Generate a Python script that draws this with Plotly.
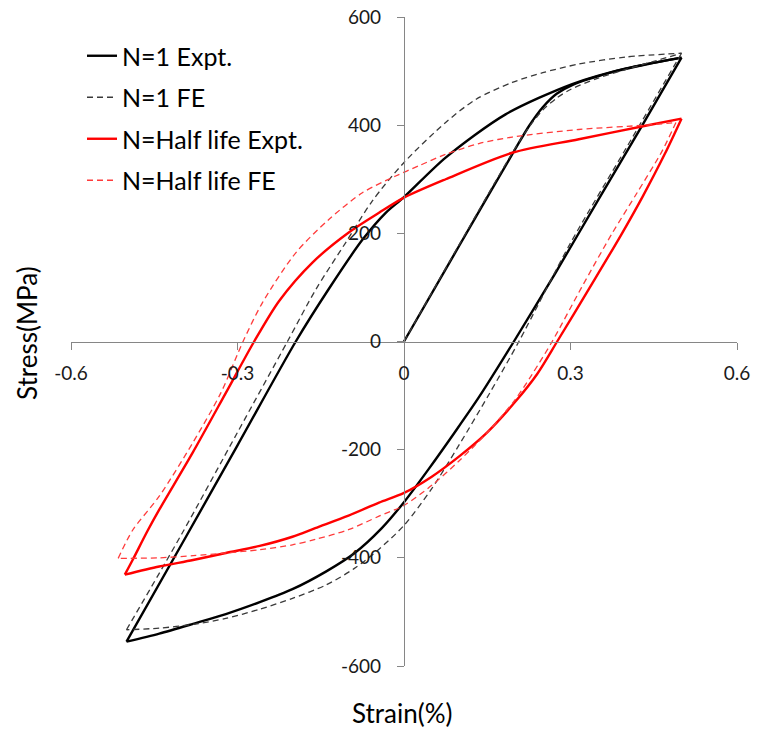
import plotly.graph_objects as go

# ---------------- data ----------------
# None separates the branches of each hysteresis loop (loading / unloading)
n1_expt_strain = [0, 0.1, 0.2, 0.225, 0.25, 0.275, 0.303, 0.375, 0.435, 0.5, None,
                  0.5, 0.429, 0.35, 0.273, 0.198, 0.135, 0.09, 0.045, 0, -0.04, -0.09, -0.14, -0.201,
                  -0.26, -0.321, -0.38, -0.441, -0.5, None,
                  -0.5, -0.4, -0.3, -0.195, -0.135, -0.075, -0.033, 0, 0.075,
                  0.183, 0.303, 0.4, 0.5]
n1_expt_stress = [0, 178, 355, 398, 433, 458, 474, 498, 512, 525, None,
                  525, 399, 262, 127, 0, -103, -170, -235, -297, -345, -392, -425, -458,
                  -482, -504, -522, -540, -555, None,
                  -555, -374, -192, 0, 98, 188, 238, 267, 340,
                  420, 476, 505, 525]

n1_fe_strain = [0, 0.1, 0.2, 0.225, 0.25, 0.275, 0.3, 0.35, 0.4, 0.45, 0.5, None,
                0.5, 0.4, 0.3, 0.207, 0.153, 0.1, 0.05, 0, -0.045, -0.09,
                -0.14, -0.201, -0.26, -0.321, -0.38, -0.441, -0.5, None,
                -0.5, -0.4, -0.3, -0.21, -0.159, -0.105, -0.057, 0, 0.075,
                0.13, 0.195, 0.25, 0.315, 0.4, 0.5]
n1_fe_stress = [0, 180, 357, 396, 428, 450, 466, 487, 503, 518, 533, None,
                533, 357, 182, 0, -98, -190, -272, -340, -384, -420,
                -450, -475, -495, -512, -523, -530, -533, None,
                -533, -355, -168, 0, 96, 183, 260, 331, 405,
                448, 479, 497, 513, 526, 533]

half_expt_strain = [0.5, 0.47, 0.43, 0.39, 0.333, 0.276, 0.24, 0.2, 0.15, 0.1, 0.05, 0,
                    -0.045, -0.1, -0.16, -0.201, -0.26, -0.321, -0.38, -0.441, -0.503, None,
                    -0.503, -0.489, -0.462, -0.441, -0.381, -0.321, -0.27, -0.225, -0.165, -0.099,
                    -0.045, 0, 0.075, 0.195, 0.315, 0.435, 0.5]
half_expt_stress = [412, 347, 268, 195, 97, 0, -60, -112, -168, -212, -250, -280,
                    -298, -322, -345, -361, -378, -391, -404, -416, -431, None,
                    -431, -404, -350, -311, -206, -95, 0, 75, 146, 202,
                    238, 266, 300, 349, 374, 399, 412]

half_fe_strain = [0.49, 0.465, 0.42, 0.375, 0.32, 0.267, 0.23, 0.2, 0.153, 0.1, 0.05, 0,
                  -0.045, -0.1, -0.16, -0.201, -0.26, -0.321, -0.38, -0.441, -0.515, None,
                  -0.515, -0.489, -0.441, -0.381, -0.33, -0.29, -0.255, -0.195, -0.135, -0.075,
                  -0.015, 0.027, 0.075, 0.135, 0.195, 0.315, 0.435, 0.49]
half_fe_stress = [405, 352, 275, 200, 100, 0, -62, -108, -165, -220, -266, -303,
                  -323, -348, -366, -376, -385, -391, -396, -400, -401, None,
                  -401, -349, -286, -188, -95, 0, 72, 164, 226, 275,
                  306, 325, 346, 366, 378, 392, 400, 405]

series_names = ["N=1 Expt.", "N=1 FE", "N=Half life Expt.", "N=Half life FE"]
x_ticks = [-0.6, -0.3, 0, 0.3, 0.6]
y_ticks = [-600, -400, -200, 0, 200, 400, 600]

# ---------------- figure ----------------
FONT = "Lato, 'Open Sans', sans-serif"
fig = go.Figure()
specs = [
    (n1_expt_strain, n1_expt_stress, series_names[0], "#000000", 2.4, "solid"),
    (n1_fe_strain, n1_fe_stress, series_names[1], "#3a3a3a", 1.3, "6px,4px"),
    (half_expt_strain, half_expt_stress, series_names[2], "#ff0000", 2.4, "solid"),
    (half_fe_strain, half_fe_stress, series_names[3], "#ff3b3b", 1.3, "6px,4px"),
]
for i, (xs, ys, name, col, w, dash) in enumerate(specs):
    fig.add_trace(go.Scatter(x=xs, y=ys, mode="lines", name=name, legendgroup=str(i),
                             connectgaps=False,
                             line=dict(color=col, width=w, dash=dash, shape="spline", smoothing=0.8)))

axis_common = dict(showgrid=False, zeroline=False, showline=True, linecolor="#868686",
                   linewidth=1.3, ticks="outside", tickcolor="#868686", ticklen=7, tickwidth=1.3,
                   tickfont=dict(family=FONT, size=19, color="#1a1a1a"), anchor="free", position=0.5,
                   automargin=False)

fig.update_layout(
    width=757, height=731,
    margin=dict(l=71, r=20, t=17, b=65, autoexpand=False),
    paper_bgcolor="white", plot_bgcolor="white",
    xaxis=dict(range=[-0.6, 0.6], tickvals=x_ticks, ticktext=[str(v) for v in x_ticks],
               ticklabelstandoff=8, **axis_common),
    yaxis=dict(range=[-600, 600], tickvals=y_ticks, ticktext=[str(v) for v in y_ticks],
               ticklabelstandoff=12, **axis_common),
    showlegend=True,
    legend=dict(x=(82 - 71) / 666, y=1 - (33 - 17) / 649, xanchor="left", yanchor="top",
                font=dict(family=FONT, size=25, color="#000000"),
                bgcolor="rgba(0,0,0,0)", traceorder="grouped", tracegroupgap=6),
    annotations=[
        dict(text="Strain(%)", xref="paper", yref="paper", x=(402 - 71) / 666, y=-(713 - 666) / 649,
             xanchor="center", yanchor="middle", showarrow=False,
             font=dict(family=FONT, size=26, color="#000000")),
        dict(text="Stress(MPa)", xref="paper", yref="paper", x=(27 - 71) / 666, y=(666 - 333) / 649,
             xanchor="center", yanchor="middle", textangle=-90, showarrow=False,
             font=dict(family=FONT, size=26, color="#000000")),
    ],
)

fig.write_html("out.html")
